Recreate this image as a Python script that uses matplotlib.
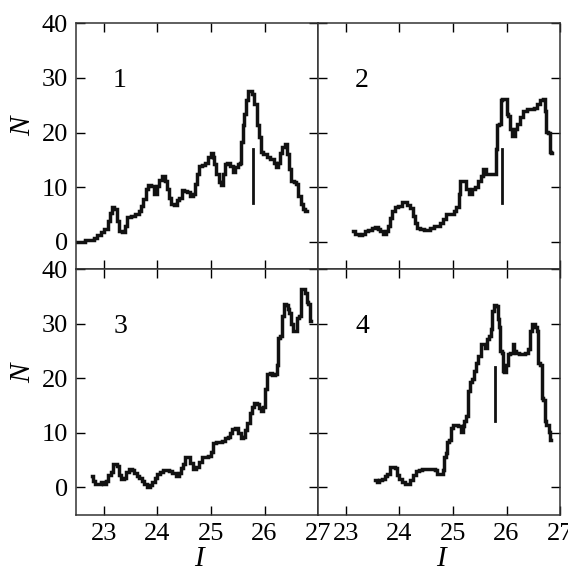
import matplotlib
matplotlib.use("Agg")
import matplotlib.pyplot as plt

plt.rcParams['font.family'] = ['Liberation Serif', 'DejaVu Serif']

# panel 1
i1 = [22.50, 22.78, 22.84, 22.91, 22.97, 23.05, 23.09, 23.12, 23.17, 23.22, 23.25, 23.30, 23.37, 23.40,
      23.47, 23.53, 23.62, 23.68, 23.71, 23.76, 23.80, 23.84, 23.90, 23.96, 24.01, 24.06, 24.12, 24.17,
      24.19, 24.24, 24.27, 24.34, 24.38, 24.43, 24.48, 24.52, 24.58, 24.63, 24.68, 24.71, 24.75, 24.80,
      24.86, 24.93, 24.97, 25.02, 25.05, 25.08, 25.12, 25.16, 25.20, 25.24, 25.27, 25.33, 25.39, 25.42,
      25.47, 25.52, 25.55, 25.58, 25.61, 25.64, 25.67, 25.70, 25.75, 25.78, 25.83, 25.87, 25.92, 25.95,
      26.01, 26.07, 26.14, 26.20, 26.23, 26.26, 26.30, 26.35, 26.40, 26.43, 26.48, 26.52, 26.57, 26.61,
      26.65, 26.70, 26.74, 26.79]
n1 = [0, 0.3, 0.6, 1.3, 1.8, 2.3, 3.8, 5.3, 6.3, 6.0, 3.8, 2.0, 1.7, 2.9,
      4.5, 4.7, 5.0, 5.6, 6.6, 7.8, 9.6, 10.4, 10.2, 8.8, 10.2, 11.3, 12.1, 11.2,
      9.6, 8.1, 6.9, 6.7, 7.6, 8.1, 9.4, 9.3, 9.2, 8.4, 8.7, 10.6, 12.4, 13.9,
      14.1, 14.5, 15.5, 16.2, 15.6, 14.2, 12.4, 10.9, 10.4, 12.4, 14.2, 14.4, 13.9, 12.7,
      13.6, 14.2, 14.4, 18.2, 21.3, 23.4, 25.9, 27.6, 27.7, 27.0, 25.3, 21.3, 19.1, 16.4,
      16.1, 15.6, 15.2, 14.5, 13.7, 14.5, 16.2, 17.3, 17.9, 16.1, 13.3, 11.2, 10.9, 10.6,
      8.4, 6.9, 6.0, 5.6]

# panel 2
i2 = [23.14, 23.21, 23.27, 23.33, 23.39, 23.45, 23.52, 23.58, 23.62, 23.67, 23.72, 23.77, 23.81, 23.85,
      23.89, 23.95, 24.01, 24.08, 24.12, 24.17, 24.23, 24.26, 24.31, 24.36, 24.42, 24.48, 24.54, 24.61,
      24.67, 24.74, 24.79, 24.84, 24.89, 24.95, 25.01, 25.04, 25.09, 25.12, 25.15, 25.22, 25.26, 25.32,
      25.38, 25.45, 25.49, 25.54, 25.60, 25.64, 25.71, 25.79, 25.81, 25.83, 25.88, 25.90, 25.94, 25.99,
      26.01, 26.05, 26.08, 26.13, 26.18, 26.22, 26.29, 26.34, 26.41, 26.48, 26.55, 26.58, 26.66, 26.70,
      26.73, 26.76, 26.80, 26.81, 26.85]
n2 = [2.0, 1.5, 1.2, 1.5, 2.0, 2.1, 2.5, 2.7, 2.4, 2.0, 1.5, 2.0, 2.9, 4.4,
      5.6, 6.3, 6.6, 7.2, 7.3, 6.7, 6.1, 4.7, 3.5, 2.6, 2.3, 2.1, 2.1, 2.5,
      2.8, 2.9, 3.5, 4.1, 5.0, 5.0, 5.0, 5.6, 6.3, 8.8, 11.2, 11.2, 9.6, 8.8,
      9.6, 10.1, 11.2, 12.1, 13.3, 12.5, 12.5, 12.5, 17.0, 21.3, 21.5, 25.9, 26.1, 26.1,
      23.4, 23.1, 20.7, 19.4, 20.7, 21.6, 22.8, 24.0, 24.4, 24.4, 24.5, 25.3, 26.0, 26.1,
      24.0, 20.1, 19.9, 16.4, 16.3]

# panel 3
i3 = [22.78, 22.81, 22.86, 22.93, 22.97, 23.01, 23.06, 23.11, 23.16, 23.17, 23.22, 23.26, 23.30, 23.34,
      23.40, 23.43, 23.50, 23.55, 23.59, 23.63, 23.68, 23.73, 23.78, 23.84, 23.88, 23.93, 23.98, 24.02,
      24.07, 24.12, 24.18, 24.24, 24.30, 24.38, 24.42, 24.46, 24.50, 24.54, 24.58, 24.63, 24.69, 24.74,
      24.80, 24.85, 24.91, 24.98, 25.02, 25.06, 25.11, 25.17, 25.24, 25.29, 25.33, 25.37, 25.42, 25.48,
      25.53, 25.58, 25.62, 25.66, 25.70, 25.75, 25.78, 25.83, 25.87, 25.91, 25.95, 25.99, 26.03, 26.07,
      26.12, 26.17, 26.21, 26.24, 26.27, 26.31, 26.34, 26.39, 26.42, 26.45, 26.48, 26.51, 26.54, 26.58,
      26.62, 26.66, 26.70, 26.75, 26.78, 26.80, 26.83, 26.85, 26.86]
n3 = [2.1, 1.2, 0.7, 0.7, 0.9, 0.7, 1.2, 2.3, 2.8, 4.3, 4.3, 4.0, 2.3, 1.5,
      1.7, 2.9, 3.4, 3.1, 2.6, 2.1, 1.7, 1.2, 0.7, 0.1, 0.4, 1.0, 1.7, 2.5,
      2.9, 3.1, 3.1, 3.0, 2.6, 2.1, 2.6, 3.5, 4.2, 5.6, 5.5, 4.4, 3.4, 3.8,
      4.7, 5.5, 5.5, 5.8, 6.4, 8.1, 8.4, 8.3, 8.5, 9.1, 9.3, 9.9, 10.7, 10.9,
      9.9, 9.1, 9.3, 10.6, 11.8, 13.6, 14.8, 15.5, 15.3, 14.5, 14.0, 14.8, 18.1, 20.7,
      21.0, 20.6, 20.7, 22.5, 27.4, 27.7, 31.4, 33.6, 33.5, 32.7, 32.0, 29.9, 28.7, 28.7,
      31.1, 31.4, 36.3, 36.3, 35.7, 33.9, 33.6, 30.5, 30.4]

# panel 4
i4 = [23.55, 23.60, 23.64, 23.70, 23.75, 23.80, 23.83, 23.89, 23.93, 23.97, 24.01, 24.08, 24.14, 24.18,
      24.23, 24.28, 24.33, 24.39, 24.45, 24.51, 24.57, 24.64, 24.68, 24.72, 24.79, 24.82, 24.84, 24.89,
      24.90, 24.95, 24.98, 25.01, 25.07, 25.13, 25.17, 25.20, 25.23, 25.26, 25.29, 25.33, 25.37, 25.41,
      25.45, 25.49, 25.54, 25.57, 25.61, 25.65, 25.69, 25.73, 25.74, 25.79, 25.83, 25.85, 25.87, 25.89,
      25.93, 25.95, 25.97, 26.01, 26.04, 26.10, 26.13, 26.16, 26.21, 26.25, 26.32, 26.38, 26.42, 26.46,
      26.50, 26.55, 26.58, 26.60, 26.65, 26.66, 26.70, 26.72, 26.77, 26.80, 26.83]
n4 = [1.3, 1.0, 1.3, 1.5, 2.0, 2.4, 3.7, 3.8, 3.5, 2.3, 1.5, 1.0, 0.7, 0.7,
      1.3, 2.3, 3.0, 3.2, 3.4, 3.4, 3.4, 3.4, 3.1, 2.5, 2.5, 3.2, 5.6, 6.3,
      8.4, 8.7, 10.9, 11.5, 11.5, 11.3, 10.2, 11.2, 12.1, 13.0, 17.6, 19.4, 19.8, 21.4,
      22.8, 24.0, 26.3, 26.2, 25.6, 27.1, 27.7, 29.0, 32.3, 33.4, 33.2, 30.8, 29.3, 25.0,
      24.7, 21.3, 21.2, 22.5, 24.4, 24.7, 26.2, 25.0, 24.7, 24.4, 24.4, 24.7, 25.3, 28.7,
      29.9, 29.3, 28.7, 22.8, 22.5, 16.4, 16.1, 12.1, 11.5, 10.2, 8.7]

panel_ids = ['1', '2', '3', '4']
# vertical marker bars: (I, N low, N high)
marks = {'1': (25.78, 7.1, 16.9), '2': (25.91, 7.1, 16.9), '3': None, '4': (25.78, 12.1, 22.1)}

series = [(i1, n1), (i2, n2), (i3, n3), (i4, n4)]

fig, axes = plt.subplots(2, 2, figsize=(5.68, 5.70), dpi=100, sharex=True, sharey=True)
fig.subplots_adjust(left=0.134, right=0.986, top=0.959, bottom=0.097, wspace=0, hspace=0)

for ax, pid, (xs, ys) in zip(axes.flat, panel_ids, series):
    ax.plot(xs, ys, drawstyle='steps-mid', color='#111111', lw=2.5, solid_joinstyle='miter')
    if marks[pid] is not None:
        xm, lo, hi = marks[pid]
        ax.plot([xm, xm], [lo, hi], color='#111111', lw=2.0)
    ax.text(23.3, 29.5, pid, fontsize=20, ha='center', va='center')
    ax.set_xlim(22.48, 27)
    ax.set_ylim(-5, 40)
    ax.set_xticks([23, 24, 25, 26, 27])
    ax.set_yticks([0, 10, 20, 30, 40])
    ax.tick_params(direction='in', top=True, right=True, length=6.5, width=1,
                   labelsize=19, pad=6)
    for s in ax.spines.values():
        s.set_linewidth(1.1)
        s.set_color('#333333')

for ax in axes[1]:
    ax.set_xlabel('I', fontsize=21, fontstyle='italic', va='center')
    ax.xaxis.set_label_coords(0.508, -0.182)
for ax in axes[:, 0]:
    ax.set_ylabel('N', fontsize=21, fontstyle='italic', va='center')
axes[0, 0].yaxis.set_label_coords(-0.217, 0.58)
axes[1, 0].yaxis.set_label_coords(-0.217, 0.574)

plt.savefig('out.png', dpi=100)
